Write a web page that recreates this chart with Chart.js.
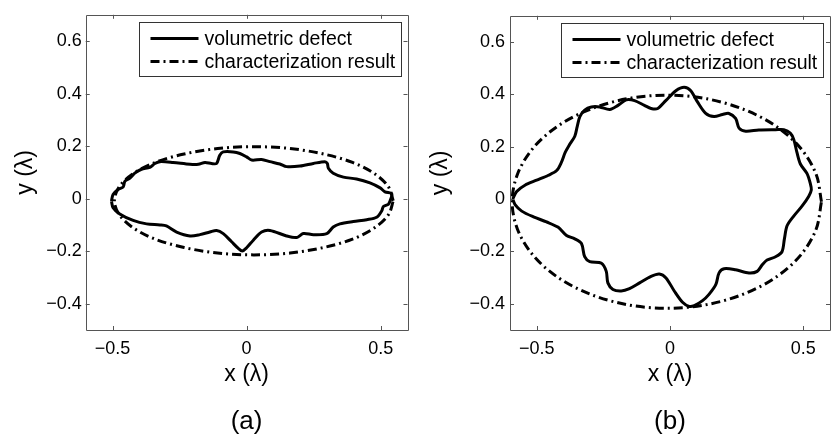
<!DOCTYPE html>
<html>
<head>
<meta charset="utf-8">
<script src="https://cdn.jsdelivr.net/npm/chart.js@4.4.1/dist/chart.umd.min.js"></script>
<style>
  html, body { margin: 0; padding: 0; background: #fff; overflow: hidden; }
  #wrap { position: relative; width: 831px; height: 439px; }
  canvas { position: absolute; top: 0; }
  #chartA { left: 0; }
  #chartB { left: 415px; }
</style>
</head>
<body>
<div id="wrap">
  <canvas id="chartA" width="415" height="439"></canvas>
  <canvas id="chartB" width="416" height="439"></canvas>
</div>
<script>
// axis ticks (same for both panels)
const xTicks = [-0.5, 0, 0.5]
const yTicks = [-0.4, -0.2, 0, 0.2, 0.4, 0.6]

// panel (a): volumetric defect outline
const defectAX = [-0.504, -0.498, -0.479, -0.460, -0.454, -0.435, -0.417, -0.392, -0.361, -0.342, -0.323, -0.274, -0.211, -0.180, -0.155, -0.131, -0.112, -0.100, -0.087, -0.050, -0.025, 0.000, 0.019, 0.056, 0.087, 0.124, 0.149, 0.199, 0.249, 0.292, 0.301, 0.305, 0.323, 0.361, 0.410, 0.460, 0.498, 0.516, 0.541, 0.538, 0.529, 0.510, 0.504, 0.485, 0.448, 0.398, 0.348, 0.323, 0.299, 0.249, 0.211, 0.187, 0.149, 0.087, 0.056, 0.025, 0.000, -0.016, -0.031, -0.056, -0.087, -0.112, -0.137, -0.174, -0.211, -0.261, -0.299, -0.323, -0.373, -0.423, -0.473, -0.498, -0.504]
const defectAY = [-0.009, 0.016, 0.035, 0.045, 0.066, 0.078, 0.097, 0.112, 0.119, 0.134, 0.141, 0.138, 0.131, 0.131, 0.138, 0.134, 0.134, 0.165, 0.178, 0.178, 0.172, 0.159, 0.147, 0.149, 0.141, 0.132, 0.122, 0.124, 0.134, 0.141, 0.134, 0.116, 0.097, 0.082, 0.075, 0.060, 0.041, 0.026, 0.019, 0.000, -0.021, -0.030, -0.046, -0.071, -0.080, -0.087, -0.096, -0.108, -0.133, -0.137, -0.133, -0.148, -0.142, -0.121, -0.127, -0.158, -0.187, -0.199, -0.189, -0.164, -0.133, -0.121, -0.127, -0.137, -0.142, -0.127, -0.104, -0.100, -0.096, -0.083, -0.058, -0.034, -0.009]

// panel (a): characterization result (ellipse)
const fitAX = [0.547, 0.529, 0.477, 0.395, 0.287, 0.162, 0.027, -0.108, -0.233, -0.341, -0.423, -0.475, -0.493, -0.475, -0.423, -0.341, -0.233, -0.108, 0.027, 0.162, 0.287, 0.395, 0.477, 0.529, 0.547]
const fitAY = [-0.008, 0.045, 0.095, 0.138, 0.170, 0.191, 0.198, 0.191, 0.170, 0.138, 0.095, 0.045, -0.008, -0.061, -0.111, -0.154, -0.186, -0.207, -0.214, -0.207, -0.186, -0.154, -0.111, -0.061, -0.008]

// panel (b): volumetric defect outline
const defectBX = [-0.590, -0.575, -0.544, -0.500, -0.456, -0.425, -0.407, -0.393, -0.376, -0.357, -0.348, -0.338, -0.320, -0.295, -0.264, -0.226, -0.195, -0.164, -0.133, -0.096, -0.071, -0.046, -0.015, 0.022, 0.053, 0.078, 0.103, 0.134, 0.165, 0.197, 0.221, 0.246, 0.259, 0.284, 0.333, 0.396, 0.427, 0.451, 0.464, 0.476, 0.489, 0.514, 0.526, 0.530, 0.520, 0.495, 0.464, 0.439, 0.429, 0.420, 0.396, 0.364, 0.346, 0.327, 0.296, 0.246, 0.203, 0.184, 0.172, 0.147, 0.122, 0.091, 0.072, 0.047, 0.016, -0.015, -0.040, -0.071, -0.114, -0.152, -0.183, -0.214, -0.233, -0.239, -0.257, -0.301, -0.320, -0.332, -0.357, -0.388, -0.419, -0.463, -0.512, -0.556, -0.581, -0.590]
const defectBY = [0.000, 0.029, 0.053, 0.072, 0.091, 0.109, 0.141, 0.178, 0.209, 0.240, 0.277, 0.315, 0.340, 0.352, 0.352, 0.342, 0.358, 0.379, 0.376, 0.358, 0.346, 0.346, 0.377, 0.414, 0.427, 0.414, 0.371, 0.327, 0.315, 0.323, 0.327, 0.308, 0.271, 0.259, 0.264, 0.265, 0.265, 0.252, 0.228, 0.178, 0.134, 0.097, 0.060, 0.035, 0.010, -0.027, -0.065, -0.102, -0.152, -0.201, -0.220, -0.233, -0.251, -0.276, -0.282, -0.270, -0.266, -0.282, -0.326, -0.363, -0.388, -0.407, -0.410, -0.394, -0.351, -0.301, -0.286, -0.295, -0.320, -0.342, -0.351, -0.345, -0.320, -0.276, -0.245, -0.239, -0.220, -0.170, -0.152, -0.139, -0.108, -0.087, -0.068, -0.046, -0.021, 0.000]

// panel (b): characterization result
const fitBX = [0.568, 0.548, 0.490, 0.398, 0.278, 0.138, -0.012, -0.162, -0.302, -0.422, -0.514, -0.572, -0.592, -0.572, -0.514, -0.422, -0.302, -0.162, -0.012, 0.138, 0.278, 0.398, 0.490, 0.548, 0.568]
const fitBY = [-0.010, 0.095, 0.194, 0.278, 0.342, 0.383, 0.397, 0.383, 0.342, 0.278, 0.194, 0.095, -0.010, -0.115, -0.214, -0.298, -0.362, -0.403, -0.417, -0.403, -0.362, -0.298, -0.214, -0.115, -0.010]

const FONT = "'Liberation Sans', Arial, sans-serif"
const DASHDOT = [9, 4, 2, 4]

const zip = (xs, ys) => xs.map((x, i) => ({ x: x, y: ys[i] }))
const fmt = (v) => (v < 0 ? "\u2212" + Math.abs(v) : String(v))

// box, inward ticks, legend and panel caption (MATLAB look)
const framePlugin = {
  id: "frame",
  afterDraw(chart, args, opts) {
    const { ctx, chartArea: a, scales } = chart
    const L = a.left, R = a.right, T = a.top, B = a.bottom
    ctx.save()
    ctx.strokeStyle = "#555"
    ctx.lineWidth = 1
    ctx.beginPath()
    ctx.rect(Math.round(L) + 0.5, Math.round(T) + 0.5, Math.round(R - L), Math.round(B - T))
    xTicks.forEach((v) => {
      const px = Math.round(scales.x.getPixelForValue(v)) + 0.5
      ctx.moveTo(px, B); ctx.lineTo(px, B - 4)
      ctx.moveTo(px, T); ctx.lineTo(px, T + 4)
    })
    yTicks.forEach((v) => {
      const py = Math.round(scales.y.getPixelForValue(v)) + 0.5
      ctx.moveTo(L, py); ctx.lineTo(L + 4, py)
      ctx.moveTo(R, py); ctx.lineTo(R - 4, py)
    })
    ctx.stroke()

    // legend
    const bw = 262, bh = 54
    const bx = Math.round(R - opts.legendRight - bw) + 0.5
    const by = Math.round(T + 7) + 0.5
    ctx.fillStyle = "#fff"
    ctx.fillRect(bx, by, bw, bh)
    ctx.strokeStyle = "#333"
    ctx.strokeRect(bx, by, bw, bh)
    ctx.font = "19.5px " + FONT
    ctx.textBaseline = "middle"
    ctx.textAlign = "left"
    chart.data.datasets.forEach((ds, i) => {
      const ly = by + 16 + i * 23
      ctx.strokeStyle = "#000"
      ctx.lineWidth = 3
      ctx.setLineDash(ds.borderDash || [])
      ctx.beginPath()
      ctx.moveTo(bx + 11, ly)
      ctx.lineTo(bx + 59, ly)
      ctx.stroke()
      ctx.setLineDash([])
      ctx.fillStyle = "#000"
      ctx.fillText(ds.label, bx + 65, ly + 1)
    })

    // panel caption
    ctx.font = "26px " + FONT
    ctx.textAlign = "center"
    ctx.textBaseline = "alphabetic"
    ctx.fillStyle = "#000"
    ctx.fillText(opts.caption, scales.x.getPixelForValue(0), 429)
    ctx.restore()
  },
}

function makeChart(id, defX, defY, fitX, fitY, cfg) {
  return new Chart(document.getElementById(id), {
    type: "scatter",
    data: {
      datasets: [
        {
          label: "volumetric defect",
          data: zip(defX, defY),
          showLine: true,
          borderColor: "#000",
          borderWidth: 3,
          pointRadius: 0,
          tension: 0.3,
        },
        {
          label: "characterization result",
          data: zip(fitX, fitY),
          showLine: true,
          borderColor: "#000",
          borderWidth: 3,
          borderDash: DASHDOT,
          pointRadius: 0,
          tension: 0.33,
        },
      ],
    },
    options: {
      responsive: false,
      animation: false,
      layout: { padding: { left: 0, top: 8, right: cfg.padRight, bottom: 0 } },
      plugins: {
        legend: { display: false },
        tooltip: { enabled: false },
        frame: { caption: cfg.caption, legendRight: 7 },
      },
      scales: {
        x: {
          type: "linear",
          min: -0.6,
          max: 0.6,
          afterBuildTicks: (s) => { s.ticks = xTicks.map((v) => ({ value: v })) },
          afterFit: (s) => { s.height = 109 },
          grid: { display: false, drawTicks: false },
          border: { display: false },
          ticks: { color: "#000", font: { family: FONT, size: 18 }, padding: 8, maxRotation: 0, autoSkip: false, callback: fmt },
          title: { display: true, text: "x (\u03bb)", color: "#000", font: { family: FONT, size: 23 }, padding: { top: 0, bottom: 51 } },
        },
        y: {
          type: "linear",
          min: -0.5,
          max: 0.7,
          afterBuildTicks: (s) => { s.ticks = yTicks.map((v) => ({ value: v })) },
          afterFit: (s) => { s.width = cfg.yWidth },
          grid: { display: false, drawTicks: false },
          border: { display: false },
          ticks: { color: "#000", font: { family: FONT, size: 18 }, padding: cfg.yPad, autoSkip: false, callback: fmt },
          title: { display: true, text: "y (\u03bb)", color: "#000", font: { family: FONT, size: 23 }, padding: { top: 12, bottom: 0 } },
        },
      },
    },
    plugins: [framePlugin],
  })
}

makeChart("chartA", defectAX, defectAY, fitAX, fitAY, { caption: "(a)", yWidth: 85.7, yPad: 4, padRight: 7.5 })
makeChart("chartB", defectBX, defectBY, fitBX, fitBY, { caption: "(b)", yWidth: 95, yPad: 5, padRight: 1 })
</script>
</body>
</html>
